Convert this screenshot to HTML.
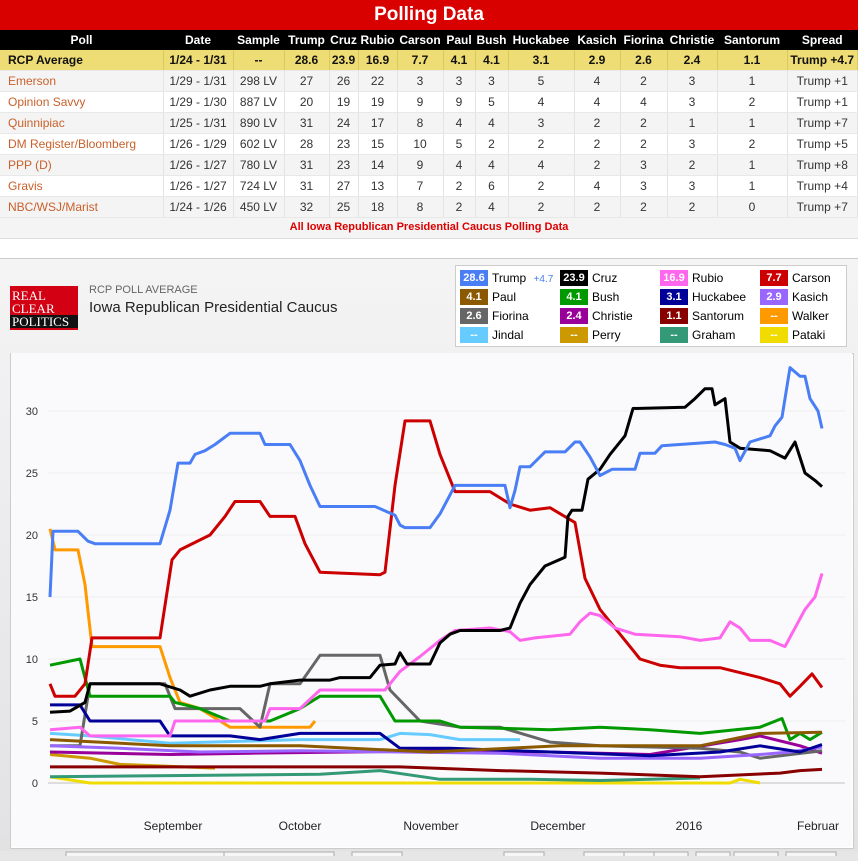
<!DOCTYPE html>
<html><head><meta charset="utf-8">
<style>
body{margin:0;width:865px;height:856px;overflow:hidden;background:#fff;font-family:"Liberation Sans",sans-serif;position:relative}
.tb{position:absolute;left:0;top:0;width:858px}
.title{background:#d90000;color:#fff;height:30px;line-height:30px;text-align:center;font-weight:bold;font-size:19px}
table{border-collapse:collapse;width:858px;font-size:12px}
th{background:#000;color:#fff;height:20px;font-weight:bold;font-size:12px;padding:0}
td{height:20px;text-align:center;padding:0;border-right:1px solid #e4e4e4;border-bottom:1px solid #e8e8e8;color:#333}
td:first-child{text-align:left;padding-left:8px;color:#c8602a}
tr.avg td{background:#eedc74;font-weight:bold;color:#111;border-right:1px solid #d8c860}
tr:nth-child(odd) td{background:#f4f4f4}
tr.avg td{background:#eedc74}
.foot{text-align:center;color:#d00;font-weight:bold;font-size:11px;height:20px;line-height:18px;background:#f4f4f4;border-bottom:1px solid #ddd}
.chart{position:absolute;left:0;top:258px;width:858px;height:598px;background:linear-gradient(#f4f4f4,#e2e2e2);border-top:1px solid #ccc}
.logo{position:absolute;left:10px;top:27px;width:68px;height:44px;background:#d20012;color:#fff;font-family:"Liberation Serif",serif;font-size:13px;line-height:13px}
.logo span{display:block;padding-left:2px}
.legend{position:absolute;left:455px;top:6px;width:390px;height:80px;background:#fff;border:1px solid #ccc;font-size:12px}
.li{position:absolute;height:16px;line-height:16px}
.sw{display:inline-block;width:28px;height:16px;color:#fff;text-align:center;font-size:11px;font-weight:bold;margin-right:4px;vertical-align:top}
</style></head><body>
<div class="tb">
<div class="title">Polling Data</div>
<table>
<tr><th style="width:163px">Poll</th><th style="width:70px">Date</th><th style="width:51px">Sample</th><th style="width:45px">Trump</th><th style="width:29px">Cruz</th><th style="width:39px">Rubio</th><th style="width:46px">Carson</th><th style="width:32px">Paul</th><th style="width:33px">Bush</th><th style="width:66px">Huckabee</th><th style="width:46px">Kasich</th><th style="width:47px">Fiorina</th><th style="width:50px">Christie</th><th style="width:70px">Santorum</th><th>Spread</th></tr>
<tr class="avg"><td style="color:#111">RCP Average</td><td>1/24 - 1/31</td><td>--</td><td>28.6</td><td>23.9</td><td>16.9</td><td>7.7</td><td>4.1</td><td>4.1</td><td>3.1</td><td>2.9</td><td>2.6</td><td>2.4</td><td>1.1</td><td>Trump +4.7</td></tr>
<tr><td>Emerson</td><td>1/29 - 1/31</td><td>298 LV</td><td>27</td><td>26</td><td>22</td><td>3</td><td>3</td><td>3</td><td>5</td><td>4</td><td>2</td><td>3</td><td>1</td><td>Trump +1</td></tr>
<tr><td>Opinion Savvy</td><td>1/29 - 1/30</td><td>887 LV</td><td>20</td><td>19</td><td>19</td><td>9</td><td>9</td><td>5</td><td>4</td><td>4</td><td>4</td><td>3</td><td>2</td><td>Trump +1</td></tr>
<tr><td>Quinnipiac</td><td>1/25 - 1/31</td><td>890 LV</td><td>31</td><td>24</td><td>17</td><td>8</td><td>4</td><td>4</td><td>3</td><td>2</td><td>2</td><td>1</td><td>1</td><td>Trump +7</td></tr>
<tr><td>DM Register/Bloomberg</td><td>1/26 - 1/29</td><td>602 LV</td><td>28</td><td>23</td><td>15</td><td>10</td><td>5</td><td>2</td><td>2</td><td>2</td><td>2</td><td>3</td><td>2</td><td>Trump +5</td></tr>
<tr><td>PPP (D)</td><td>1/26 - 1/27</td><td>780 LV</td><td>31</td><td>23</td><td>14</td><td>9</td><td>4</td><td>4</td><td>4</td><td>2</td><td>3</td><td>2</td><td>1</td><td>Trump +8</td></tr>
<tr><td>Gravis</td><td>1/26 - 1/27</td><td>724 LV</td><td>31</td><td>27</td><td>13</td><td>7</td><td>2</td><td>6</td><td>2</td><td>4</td><td>3</td><td>3</td><td>1</td><td>Trump +4</td></tr>
<tr><td>NBC/WSJ/Marist</td><td>1/24 - 1/26</td><td>450 LV</td><td>32</td><td>25</td><td>18</td><td>8</td><td>2</td><td>4</td><td>2</td><td>2</td><td>2</td><td>2</td><td>0</td><td>Trump +7</td></tr>
</table>
<div class="foot">All Iowa Republican Presidential Caucus Polling Data</div>
</div>
<div class="chart">
<div class="logo"><span style="padding-top:3px">REAL</span><span>CLEAR</span><span style="background:#111">POLITICS</span></div>
<div style="position:absolute;left:89px;top:25px;font-size:11px;color:#666">RCP POLL AVERAGE</div>
<div style="position:absolute;left:89px;top:40px;font-size:15px;color:#222">Iowa Republican Presidential Caucus</div>
<div class="legend" id="lg"></div>
<div style="position:absolute;left:10px;top:94px;width:842px;height:494px;background:#fff;border:1px solid #ccc"></div>
<div style="position:absolute;left:0;top:592px;width:858px;height:10px;background:#e6e6e6"></div>
</div>
<svg id="sv" style="position:absolute;left:0;top:0" width="865" height="856" font-family="Liberation Sans" font-size="11"></svg>
<script>
var lg=[["28.6","Trump","#4a7ef5"],["23.9","Cruz","#000"],["16.9","Rubio","#ff66ee"],["7.7","Carson","#cc0000"],
["4.1","Paul","#8b5a00"],["4.1","Bush","#009900"],["3.1","Huckabee","#000099"],["2.9","Kasich","#9966ff"],
["2.6","Fiorina","#666"],["2.4","Christie","#990099"],["1.1","Santorum","#880000"],["--","Walker","#ff9900"],
["--","Jindal","#66ccff"],["--","Perry","#cc9900"],["--","Graham","#339977"],["--","Pataki","#f0dc00"]];
var h="";lg.forEach(function(d,i){var c=i%4,r=Math.floor(i/4);h+='<div class="li" style="left:'+(4+c*100)+'px;top:'+(4+r*19)+'px"><span class="sw" style="background:'+d[2]+'">'+d[0]+'</span>'+d[1]+(i==0?' <span style="color:#4a7ef5;font-size:10px;margin-left:4px">+4.7</span>':'')+'</div>';});
document.getElementById('lg').innerHTML=h;
function Y(v){return 783-12.4*v}
var s="";
s+='<rect x="11" y="353" width="841" height="494" fill="#fafafc"/>';
[0,5,10,15,20,25,30].forEach(function(v){s+='<line x1="48" x2="845" y1="'+Y(v)+'" y2="'+Y(v)+'" stroke="'+(v==0?'#ddd':'#eee')+'" stroke-width="'+(v==0?2:1)+'"/><text x="38" y="'+(Y(v)+4)+'" text-anchor="end" fill="#333">'+v+'</text>';});
[[173,"September"],[300,"October"],[431,"November"],[558,"December"],[689,"2016"],[818,"Februar"]].forEach(function(d){s+='<text x="'+d[0]+'" y="830" text-anchor="middle" fill="#222" font-size="12">'+d[1]+'</text>';});
var S=[
["#f0dc00",[[50,.5],[90,0],[730,0],[740,.3],[760,0]]],
["#339977",[[50,.5],[170,.6],[320,.7],[380,1],[440,.3],[530,.3],[600,.2],[700,.4]]],
["#cc9900",[[50,2.3],[90,2],[120,1.5],[215,1.2]]],
["#66ccff",[[50,4],[90,3.8],[170,3.2],[300,3.5],[380,3.5],[400,4],[430,3.9],[460,3.5],[520,3.5]]],
["#ff9900",[[50,20.5],[55,18.8],[78,18.8],[85,16],[92,11],[160,11],[170,8.5],[180,6.5],[200,6],[230,4.5],[310,4.5],[315,5]]],
["#880000",[[50,1.3],[300,1.3],[400,1.3],[500,1],[600,.8],[700,.5],[780,.8],[800,1],[822,1.1]]],
["#990099",[[50,2.5],[170,2.3],[250,2.4],[350,2.5],[450,2.6],[550,2.5],[650,2.3],[740,3.5],[760,3.8],[800,3],[822,2.4]]],
["#666",[[50,3],[80,3],[90,8],[165,8],[175,6],[240,6],[260,4.5],[270,8],[300,8],[320,10.3],[380,10.3],[390,7.5],[420,5],[460,4.5],[500,4.5],[550,3.3],[600,3],[700,2.8],[740,2.5],[760,2],[822,2.6]]],
["#9966ff",[[50,3],[120,2.8],[200,2.5],[300,2.6],[400,2.5],[500,2.4],[600,2],[700,2],[760,2.3],[790,2.5],[822,2.9]]],
["#000099",[[50,6.3],[80,6.3],[90,5],[160,5],[170,3.8],[230,3.8],[260,3.5],[300,4],[380,4],[400,2.8],[450,2.8],[550,2.5],[650,2.2],[720,2.5],[760,3],[800,2.5],[822,3.1]]],
["#009900",[[50,9.5],[80,10],[90,7],[170,7],[175,6.5],[200,6],[230,5],[270,5],[300,6],[320,7],[380,7],[395,5],[440,5],[460,4.5],[550,4.3],[600,4.5],[650,4.3],[700,4],[760,4.5],[782,5.2],[790,3.5],[800,4],[810,3.5],[822,4.1]]],
["#8b5a00",[[50,3.5],[170,3],[300,3],[430,2.5],[560,3],[700,3],[760,4],[822,4.1]]],
["#cc0000",[[50,8],[55,7],[75,7],[85,8],[92,11.7],[160,11.7],[172,18],[180,18.8],[190,19.2],[210,20],[225,21.5],[235,22.7],[260,22.7],[270,21.5],[295,21.5],[305,19.3],[320,17],[380,16.8],[385,17],[395,24],[405,29.2],[430,29.2],[440,26.5],[455,23.5],[490,23.5],[510,22.5],[530,22],[550,22.2],[575,21],[585,16.5],[600,14],[620,12],[640,10],[660,9.5],[680,9.3],[720,9.3],[760,8.5],[780,8],[790,7],[800,7.8],[812,8.8],[822,7.7]]],
["#ff66ee",[[50,4.3],[80,4.5],[90,3.8],[170,3.8],[175,5],[265,5],[270,6],[300,6],[320,7.5],[385,7.5],[390,8],[400,9],[420,10.2],[440,11.5],[455,12.3],[490,12.5],[510,12.2],[520,11.5],[535,11.7],[570,12],[580,13],[590,13.7],[600,13.5],[615,12.5],[635,12],[680,11.8],[700,11.5],[720,11.7],[730,13],[740,12.5],[750,11.5],[770,11.5],[785,11],[795,12.5],[805,14],[815,15],[822,16.9]]],
["#000",[[50,5.7],[70,5.8],[85,6.5],[90,8],[160,8],[180,7.5],[190,7],[210,7.5],[230,7.8],[260,7.8],[270,8],[300,8.3],[330,8.3],[340,8.5],[370,8.5],[380,9.5],[395,9.6],[400,10.5],[407,9.6],[430,9.6],[440,11.3],[450,12],[460,12.3],[500,12.3],[510,12.5],[520,14.5],[530,16],[545,17.5],[565,18.2],[568,21.5],[572,22],[582,22],[588,24.5],[600,25.3],[610,26.5],[625,28],[633,30.2],[685,30.3],[695,31],[705,31.8],[712,31.8],[715,30.5],[725,31],[730,27.5],[740,27],[770,26.8],[785,26.2],[795,27.5],[805,25],[815,24.4],[822,23.9]]],
["#4a7ef5",[[50,15],[53,20.3],[78,20.3],[88,19.5],[95,19.3],[160,19.3],[170,22],[178,25.8],[190,25.8],[195,26.5],[205,26.8],[215,27.3],[230,28.2],[260,28.2],[265,27.3],[290,27.3],[300,26],[310,24],[320,22.3],[375,22.3],[395,21.6],[400,20.8],[405,20.6],[430,20.6],[440,21.7],[455,24],[505,24],[510,22.2],[515,23.6],[520,25.5],[530,25.5],[545,26.7],[565,26.7],[575,27.5],[580,27.5],[590,26.3],[600,24.8],[612,25.3],[635,25.3],[640,26.6],[655,26.6],[662,27.2],[715,27.5],[725,27.3],[735,27],[740,26],[750,27.5],[770,28],[775,28.8],[782,29.5],[790,33.5],[800,32.8],[805,32.8],[810,31],[818,30],[822,28.6]]]];
S.forEach(function(d){s+='<polyline fill="none" stroke-width="3" stroke-linejoin="round" stroke="'+d[0]+'" points="'+d[1].map(function(p){return p[0]+','+Y(p[1]).toFixed(1)}).join(' ')+'"/>';});
[[66,180],[224,110],[352,50],[504,40],[584,40],[624,34],[654,34],[696,34],[734,44],[786,50]].forEach(function(b){s+='<rect x="'+b[0]+'" y="852" width="'+b[1]+'" height="8" fill="#f6f6f6" stroke="#aaa"/>';});
document.getElementById('sv').innerHTML=s;
</script>
</body></html>
